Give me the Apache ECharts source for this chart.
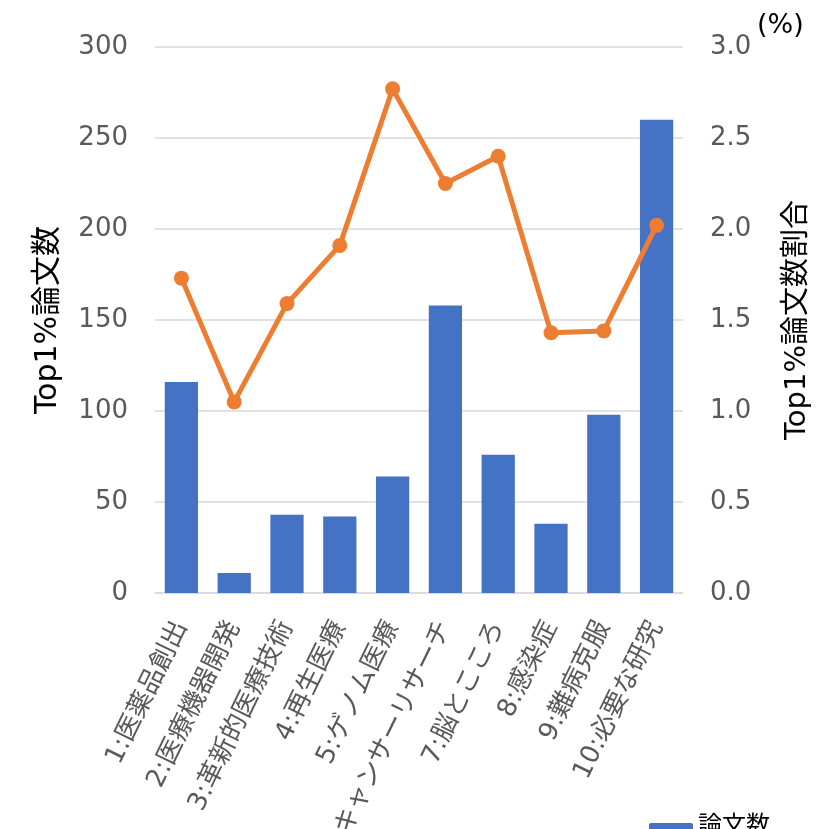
<!DOCTYPE html>
<html>
<head>
<meta charset="utf-8">
<script src="https://cdn.jsdelivr.net/npm/echarts@6/dist/echarts.min.js"></script>
<style>
  html, body { margin: 0; padding: 0; background: #fff; }
  #chart { width: 833px; height: 829px; }
</style>
</head>
<body>
<div id="chart"></div>
<script>
// 分野別の Top1% 論文数と割合
const categories = [
  '1:医薬品創出', '2:医療機器開発', '3:革新的医療技術', '4:再生医療', '5:ゲノム医療',
  '6:キャンサーリサーチ', '7:脳とこころ', '8:感染症', '9:難病克服', '10:必要な研究'
];
const paperCounts = [116, 11, 43, 42, 64, 158, 76, 38, 98, 260];
const paperShare = [1.73, 1.05, 1.59, 1.91, 2.77, 2.25, 2.40, 1.43, 1.44, 2.02];
const leftTicks = { min: 0, max: 300, interval: 50 };
const rightTicks = { min: 0, max: 3, interval: 0.5 };

const FONT = '"DejaVu Sans", "Noto Sans CJK JP", sans-serif';
const chart = echarts.init(document.getElementById('chart'), null, { renderer: 'canvas' });

chart.setOption({
  animation: false,
  textStyle: { fontFamily: FONT },
  grid: {
    left: 155, right: 150, top: 47, bottom: 236,
    containLabel: false, outerBoundsMode: 'none'
  },
  legend: {
    data: ['論文数'],
    left: 644, top: 810,
    itemWidth: 44, itemHeight: 8,
    textStyle: { fontSize: 24, color: '#000', fontFamily: FONT }
  },
  xAxis: {
    type: 'category',
    data: categories,
    axisTick: { show: false },
    axisLine: { lineStyle: { color: '#d9d9d9', width: 1.5 } },
    axisLabel: {
      rotate: 64, interval: 0, fontSize: 26, color: '#595959', margin: 30, fontFamily: FONT
    }
  },
  yAxis: [
    {
      type: 'value', ...leftTicks,
      name: 'Top1%論文数', nameLocation: 'middle', nameRotate: 90, nameGap: 92,
      nameTextStyle: { fontSize: 30, color: '#000', fontFamily: FONT },
      axisLine: { show: false }, axisTick: { show: false },
      axisLabel: { fontSize: 26, color: '#595959', margin: 27, fontFamily: FONT },
      splitLine: { lineStyle: { color: '#d9d9d9', width: 1.5 } }
    },
    {
      type: 'value', ...rightTicks,
      name: 'Top1%論文数割合', nameLocation: 'middle', nameRotate: 90, nameGap: 100,
      nameTextStyle: { fontSize: 29, color: '#000', fontFamily: FONT },
      axisLine: { show: false }, axisTick: { show: false },
      axisLabel: {
        fontSize: 26, color: '#595959', margin: 27, fontFamily: FONT,
        formatter: v => v.toFixed(1)
      },
      splitLine: { show: false }
    }
  ],
  graphic: [
    {
      type: 'text', left: 757, top: 12,
      style: { text: '(%)', fontSize: 27, fill: '#000', fontFamily: FONT }
    }
  ],
  series: [
    {
      name: '論文数', type: 'bar', yAxisIndex: 0,
      data: paperCounts,
      barCategoryGap: '37%',
      itemStyle: { color: '#4472C4' }
    },
    {
      name: 'Top1%論文数割合', type: 'line', yAxisIndex: 1,
      data: paperShare,
      symbol: 'circle', symbolSize: 15,
      lineStyle: { color: '#ED7D31', width: 5 },
      itemStyle: { color: '#ED7D31' }
    }
  ]
});
</script>
</body>
</html>
